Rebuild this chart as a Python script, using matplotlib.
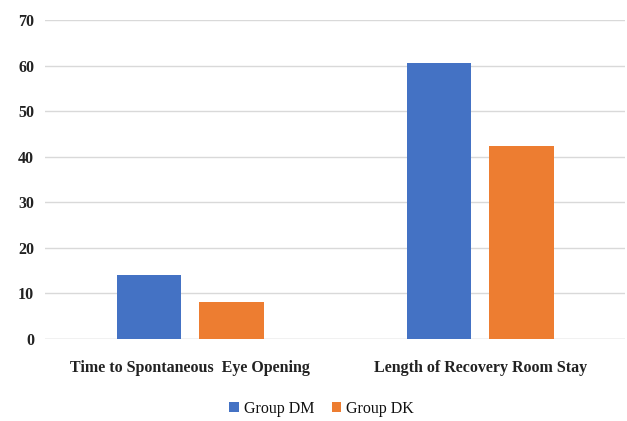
"""Bar chart: recovery times for Group DM vs Group DK."""
import matplotlib
matplotlib.use("Agg")
import matplotlib.pyplot as plt
import numpy as np

plt.rcParams.update({"font.family": "Liberation Serif"})

categories = ["Time to Spontaneous  Eye Opening", "Length of Recovery Room Stay"]
group_dm = [14.1, 60.5]
group_dk = [8.2, 42.3]
series_names = ["Group DM", "Group DK"]
colors = ["#4472C4", "#ED7D31"]

fig = plt.figure(figsize=(6.27, 4.21), dpi=100)
ax = fig.add_axes([0.0723, 0.1948, 0.9247, 0.7577])

x = np.arange(len(categories))
width = 0.223
offset = 0.142
ax.bar(x - offset, group_dm, width, color=colors[0], label=series_names[0], zorder=3)
ax.bar(x + offset, group_dk, width, color=colors[1], label=series_names[1], zorder=3)

ax.set_xlim(-0.5, 1.5)
ax.set_ylim(0, 70)
ax.set_yticks(range(0, 71, 10))
ax.yaxis.grid(True, color="#d9d9d9", linewidth=1.0, zorder=0)
ax.set_axisbelow(True)
for side in ["top", "right", "left", "bottom"]:
    ax.spines[side].set_visible(False)
ax.axhline(0, color="#d9d9d9", linewidth=1.0, zorder=1)

ax.set_xticks(x)
ax.set_xticklabels(categories, fontsize=11.5, fontweight="bold", color="#222222")
ax.tick_params(axis="both", length=0)
ax.tick_params(axis="x", pad=15)
ax.tick_params(axis="y", pad=8)
for lbl in ax.get_yticklabels():
    lbl.set_fontsize(11.5)
    lbl.set_fontweight("bold")
    lbl.set_color("#222222")

fig.legend(loc="center", bbox_to_anchor=(0.513, 12 / 421), ncol=2, frameon=False,
           prop={"size": 11.5}, handlelength=0.6, handleheight=0.6,
           handletextpad=0.3, columnspacing=1.1, labelcolor="#111111")

fig.savefig("out.png", dpi=100)
